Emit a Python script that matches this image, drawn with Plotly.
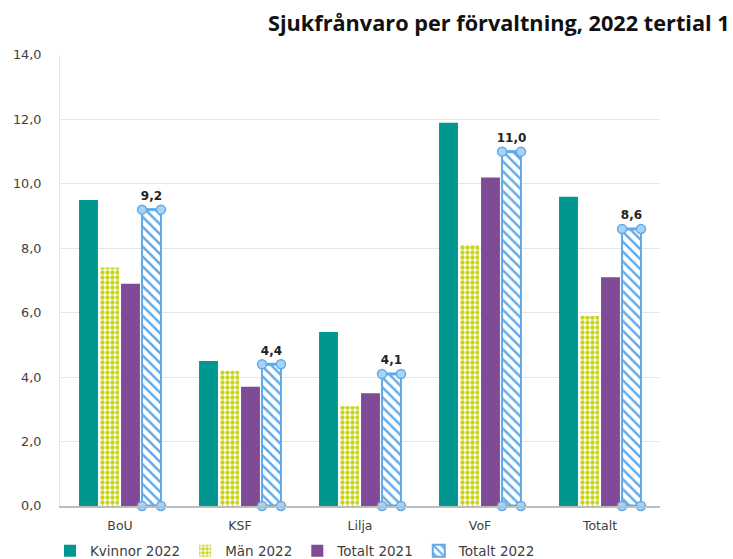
import plotly.graph_objects as go

categories = ["BoU", "KSF", "Lilja", "VoF", "Totalt"]
kvinnor_2022 = [9.5, 4.5, 5.4, 11.9, 9.6]
man_2022 = [7.4, 4.2, 3.1, 8.1, 5.9]
totalt_2021 = [6.9, 3.7, 3.5, 10.2, 7.1]
totalt_2022 = [9.2, 4.4, 4.1, 11.0, 8.6]
y_ticks = [0, 2, 4, 6, 8, 10, 12, 14]

BLUE = "#5FAAEA"
HANDLE = "#A9D2F5"
fig = go.Figure()
fig.add_trace(go.Bar(name="Kvinnor 2022", x=categories, y=kvinnor_2022,
                     marker=dict(color="#009790", line=dict(width=0))))
fig.add_trace(go.Bar(name="Män 2022", x=categories, y=man_2022,
                     marker=dict(color="white", line=dict(width=0),
                                 pattern=dict(shape=".", fgcolor="#C8D41A", bgcolor="white",
                                              size=5, solidity=0.6, fillmode="replace"))))
fig.add_trace(go.Bar(name="Totalt 2021", x=categories, y=totalt_2021,
                     marker=dict(color="#7F4A96", line=dict(width=0))))
fig.add_trace(go.Bar(name="Totalt 2022", x=categories, y=totalt_2022,
                     marker=dict(color="white", line=dict(width=2, color=BLUE),
                                 pattern=dict(shape="\\", fgcolor=BLUE, bgcolor="white",
                                              size=7, solidity=0.35, fillmode="replace"))))

# selection handles at the corners of the Totalt 2022 bars, plus value labels
bargap, groupgap, ntr = 0.3, 0.1, 4
slot = (1 - bargap) / ntr
center = -(1 - bargap) / 2 + 3.5 * slot
half = slot * (1 - groupgap) / 2
for i, v in enumerate(totalt_2022):
    xl, xr = i + center - half, i + center + half
    for yy in (v, 0):
        fig.add_trace(go.Scatter(x=[xl, xr], y=[yy, yy], xaxis="x2", mode="lines+markers",
                                 line=dict(color=BLUE, width=3),
                                 marker=dict(size=9, color=HANDLE, line=dict(color=BLUE, width=1.5)),
                                 showlegend=False, hoverinfo="skip", cliponaxis=False))
fig.add_trace(go.Scatter(x=[i + center for i in range(len(totalt_2022))], y=totalt_2022,
                         xaxis="x2", mode="markers+text", texttemplate="%{y:.1f}",
                         textposition="top center", marker=dict(size=9, opacity=0),
                         textfont=dict(size=12, color="#222222", family="DejaVu Sans", weight="bold"),
                         showlegend=False, hoverinfo="skip", cliponaxis=False))

fig.update_layout(
    width=733, height=559,
    margin=dict(l=60, r=73, t=55, b=53, autoexpand=False),
    paper_bgcolor="white", plot_bgcolor="white",
    separators=",.",
    barmode="group", bargap=bargap, bargroupgap=groupgap,
    font=dict(family="DejaVu Sans", size=12, color="#404040"),
    title=dict(text="<b>Sjukfrånvaro per förvaltning, 2022 tertial 1</b>",
               x=268 / 733, xanchor="left", xref="container",
               y=1 - 23 / 559, yanchor="middle", yref="container",
               font=dict(size=21.7, color="#111111", family="Open Sans")),
    xaxis=dict(showgrid=False, showline=True, linecolor="#BDBDBD", linewidth=1.5,
               ticks="", tickfont=dict(size=12.5, color="#404040"), range=[-0.5, 4.5],
               ticklabelstandoff=7, automargin=False),
    xaxis2=dict(overlaying="x", range=[-0.5, 4.5], visible=False),
    yaxis=dict(range=[0, 14], tickvals=y_ticks, tickformat=".1f",
               showgrid=True, gridcolor="#E6E6E6", gridwidth=1, zeroline=False,
               showline=True, linecolor="#E6E6E6", linewidth=1,
               tickfont=dict(size=12.8, color="#404040"), ticks="",
               ticklabelstandoff=15, automargin=False),
    legend=dict(orientation="h", x=50 / 733, xanchor="left", xref="container",
                y=(559 - 551) / 559, yanchor="middle", yref="container",
                font=dict(size=13.5, color="#404040"), traceorder="normal",
                itemwidth=30, tracegroupgap=0),
)

fig.write_html("out.html", post_script="document.body.style.margin='0';",
               config={"displayModeBar": False})
